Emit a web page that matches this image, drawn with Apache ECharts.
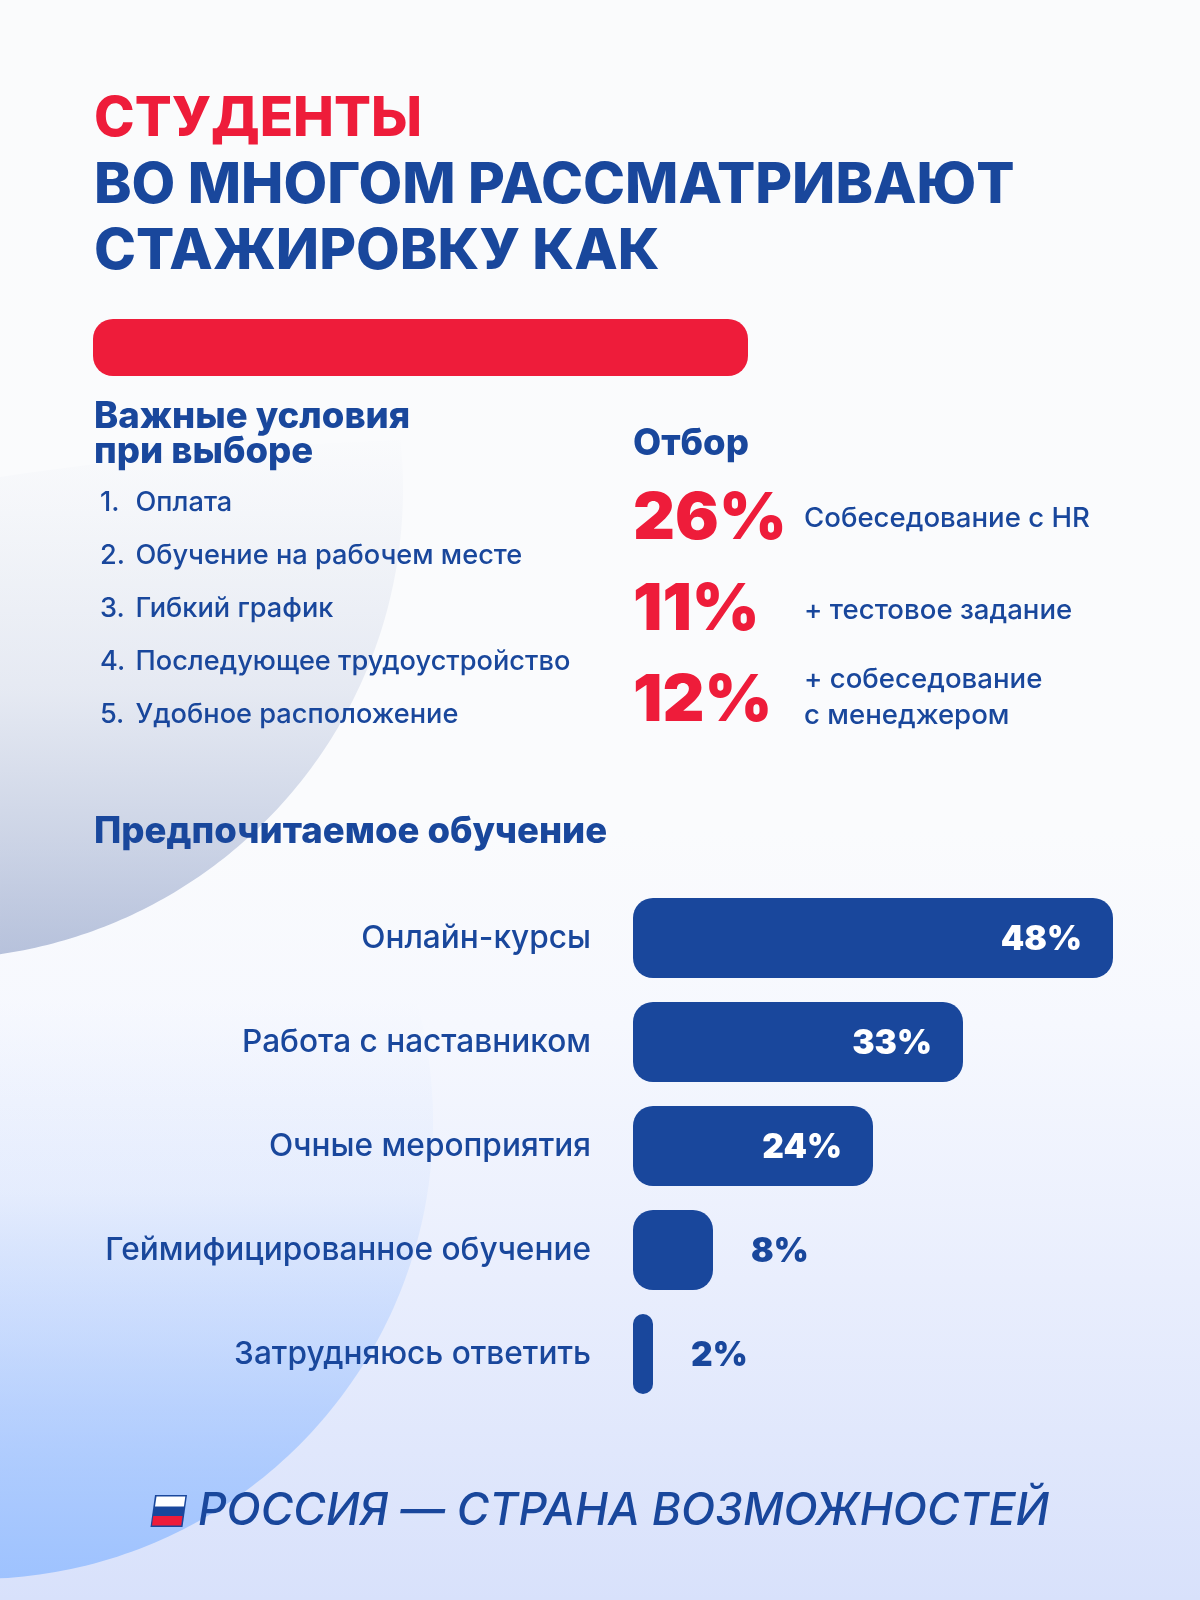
<!DOCTYPE html>
<html><head><meta charset="utf-8">
<style>html,body{margin:0;padding:0;background:#fbfbfd}#c{width:1200px;height:1600px}</style>
<script src="https://cdn.jsdelivr.net/npm/echarts@6/dist/echarts.min.js"></script>
</head><body><div id="c"></div>
<script>
const titleRed = 'СТУДЕНТЫ';
const titleBlue = ['ВО МНОГОМ РАССМАТРИВАЮТ', 'СТАЖИРОВКУ КАК'];
const conditionsHeading = ['Важные условия', 'при выборе'];
const conditions = ['Оплата', 'Обучение на рабочем месте', 'Гибкий график', 'Последующее трудоустройство', 'Удобное расположение'];
const selectionHeading = 'Отбор';
const selectionValues = ['26%', '11%', '12%'];
const selectionLabels = ['Собеседование с HR', '+ тестовое задание', '+ собеседование\nс менеджером'];
const learningHeading = 'Предпочитаемое обучение';
const categories = ['Онлайн-курсы', 'Работа с наставником', 'Очные мероприятия', 'Геймифицированное обучение', 'Затрудняюсь ответить'];
const values = [48, 33, 24, 8, 2];
const footer = 'РОССИЯ — СТРАНА ВОЗМОЖНОСТЕЙ';

const BLUE = '#19479c', RED = '#ee1c3a', FONT = 'Inter, "Noto Sans", sans-serif';
const chart = echarts.init(document.getElementById('c'), null, {renderer:'canvas'});
const LG = echarts.graphic.LinearGradient;

function arc(cx, cy, r, a0, a1, n){
  const p = [];
  for (let i = 0; i <= n; i++){ const a = a0 + (a1 - a0) * i / n; p.push([cx + r*Math.cos(a), cy + r*Math.sin(a)]); }
  return p;
}
function txt(x, y, text, size, weight, fill, extra){
  return {type:'text', x, y, z:5, style:Object.assign({text, fontFamily:FONT, fontSize:size, fontWeight:weight, fill, textVerticalAlign:'middle', verticalAlign:'middle'}, extra||{})};
}
// top grey shape: circle fading upward, with a soft upper edge at the left
const topEdge = [];
for (let i = 0; i <= 30; i++){ const t = i/30; const x = 400*t; const y = 477 - 60*t + 23*t*t; topEdge.push([x, y]); }
const greyShape = topEdge.concat(arc(-67, 489, 470, Math.atan2(-49,467), Math.atan2(465,67), 120));
const blueCircle = arc(-24, 1122, 457, -Math.PI/2, Math.PI/2, 180);

const elements = [
  {type:'rect', z:-10, shape:{x:0,y:0,width:1200,height:1600},
   style:{fill:new LG(0,0,0,1600,[{offset:0,color:'#fafbfc'},{offset:0.52,color:'#fafbfd'},{offset:0.64,color:'#f6f8fe'},{offset:0.8,color:'#e9eefd'},{offset:1,color:'#d8e1fb'}],true)}},
  {type:'polygon', z:-9, shape:{points:greyShape},
   style:{fill:new LG(0,430,0,955,[{offset:0,color:'rgba(155,170,205,0)'},{offset:0.15,color:'rgba(155,170,205,0.06)'},{offset:0.5,color:'rgba(155,170,205,0.22)'},{offset:0.8,color:'rgba(155,170,205,0.5)'},{offset:1,color:'rgba(155,170,205,0.7)'}],true)}},
  {type:'polygon', z:-9, shape:{points:blueCircle},
   style:{fill:new LG(0,1000,0,1580,[{offset:0,color:'rgba(150,190,255,0)'},{offset:0.33,color:'rgba(150,190,255,0.1)'},{offset:0.59,color:'rgba(150,190,255,0.4)'},{offset:0.78,color:'rgba(150,190,255,0.65)'},{offset:1,color:'rgba(150,190,255,0.88)'}],true)}},
  {type:'rect', z:1, shape:{x:93,y:319,width:655,height:57,r:20}, style:{fill:RED}},
  txt(94, 120, titleRed, 54.7, 800, RED),
];
titleBlue.forEach((t,i)=>elements.push(txt(94, 186+i*66, t, 56.6, 800, BLUE)));
conditionsHeading.forEach((t,i)=>elements.push(txt(94, 417+i*35, t, 36.5, 800, BLUE)));
conditions.forEach((t,i)=>{
  const y = 503 + i*53;
  elements.push(txt(100, y, (i+1)+'.', 27.2, 500, BLUE));
  elements.push(txt(135.5, y, t, 27.2, 500, BLUE));
});
elements.push(txt(633, 444, selectionHeading, 36.5, 800, BLUE));
[519, 610, 701].forEach((y,i)=>elements.push(txt(633, y, selectionValues[i], 65, 900, RED)));
[[519],[611],[680,716]].forEach((ys,i)=>{
  selectionLabels[i].split('\n').forEach((t,j)=>elements.push(txt(804, ys[j], t, 27.6, 500, BLUE)));
});
elements.push(txt(94, 832, learningHeading, 36.5, 800, BLUE));
// flag
elements.push({type:'polygon', z:5, shape:{points:[[155,1495],[187,1495],[182.5,1527],[150.5,1527]]}, style:{fill:BLUE}});
elements.push({type:'polygon', z:6, shape:{points:[[156.5,1496.5],[185.3,1496.5],[183.9,1506.5],[155,1506.5]]}, style:{fill:'#ffffff'}});
elements.push({type:'polygon', z:6, shape:{points:[[153.2,1516],[182.5,1516],[181.2,1525.5],[152,1525.5]]}, style:{fill:RED}});
elements.push(txt(198, 1512, footer, 44.5, 500, BLUE, {fontStyle:'italic'}));

chart.setOption({
  animation:false,
  grid:{left:633, top:886, width:480, height:520, containLabel:false},
  xAxis:{type:'value', min:0, max:48, show:false},
  yAxis:{type:'category', inverse:true, data:categories,
    axisLine:{show:false}, axisTick:{show:false}, splitLine:{show:false},
    axisLabel:{color:BLUE, fontFamily:FONT, fontSize:31.6, fontWeight:500, margin:42, align:'right', padding:[4,0,0,0]}},
  series:[{type:'bar', barWidth:80, z:3,
    itemStyle:{color:BLUE, borderRadius:20},
    data:values.map(v=>({value:v, label:{
      show:true, formatter:'{c}%', fontFamily:FONT, fontWeight:900, fontSize:33.5,
      position: v>=20 ? 'insideRight' : 'right', distance: v>=20 ? 31 : 38, offset:[0,2],
      color: v>=20 ? '#ffffff' : BLUE}}))
  }],
  graphic:{elements}
});
</script></body></html>
